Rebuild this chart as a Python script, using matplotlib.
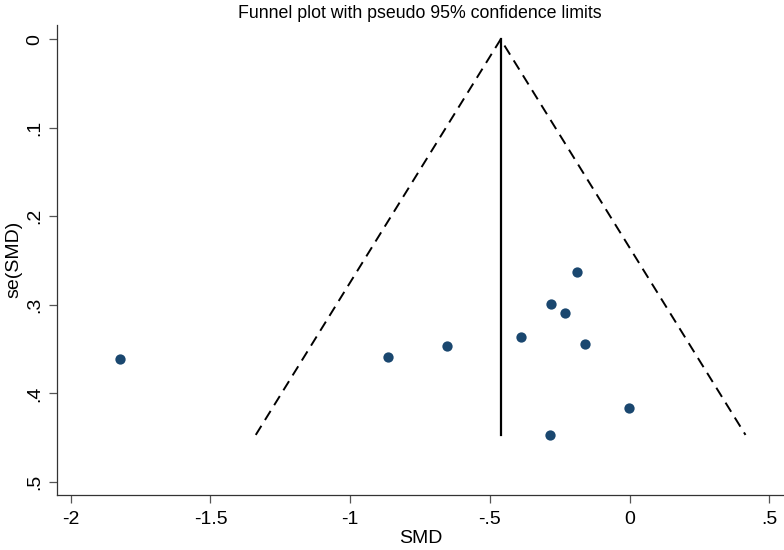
import numpy as np
import matplotlib
matplotlib.use("Agg")
import matplotlib.pyplot as plt

plt.rcParams['font.family'] = ['Liberation Sans', 'DejaVu Sans']

# Study effect sizes (SMD) and their standard errors
smd = [-1.822, -0.866, -0.653, -0.388, -0.280, -0.232, -0.189, -0.159, -0.004, -0.285]
se = [0.3616, 0.3593, 0.3466, 0.3364, 0.2991, 0.3089, 0.2629, 0.3440, 0.4166, 0.447]

xticks = [-2, -1.5, -1, -0.5, 0, 0.5]
xticklabels = ["-2", "-1.5", "-1", "-.5", "0", ".5"]
yticks = [0, 0.1, 0.2, 0.3, 0.4, 0.5]
yticklabels = ["0", ".1", ".2", ".3", ".4", ".5"]

smd_a = np.array(smd)
se_a = np.array(se)
w = 1.0 / se_a**2
pooled = np.sum(w * smd_a) / np.sum(w)
se_max = se_a.max()

fig = plt.figure(figsize=(7.84, 5.5), dpi=100)
ax = fig.add_axes([0.0731, 0.1005, 0.9269, 0.854])

# funnel limits
ax.plot([pooled - 1.96 * se_max, pooled, pooled + 1.96 * se_max],
        [se_max, 0, se_max], color='black', lw=1.4, ls=(0, (5.5, 3.5)))
ax.plot([pooled, pooled], [0, se_max], color='black', lw=1.6)

ax.scatter(smd, se, s=55, color='#1a476f', zorder=3, linewidths=0)

ax.set_xlim(-2.048, 0.552)
ax.set_ylim(0.5146, -0.0162)

for s in ['top', 'right']:
    ax.spines[s].set_visible(False)
for s in ['left', 'bottom']:
    ax.spines[s].set_color('#333333')
    ax.spines[s].set_linewidth(0.9)

ax.set_xticks(xticks)
ax.set_xticklabels(xticklabels)
ax.set_yticks(yticks)
ax.set_yticklabels(yticklabels, rotation=90, va='center')
ax.tick_params(axis='both', length=6, width=0.9, color='#555555', labelsize=14, pad=4)
ax.tick_params(axis='x', pad=6)

ax.set_xlabel("SMD", fontsize=14, labelpad=1)
ax.set_ylabel("se(SMD)", fontsize=14, labelpad=3)

fig.text(0.535, 1 - 13 / 550, "Funnel plot with pseudo 95% confidence limits",
         ha='center', va='center', fontsize=12.8)

fig.savefig("out.png", dpi=100)
